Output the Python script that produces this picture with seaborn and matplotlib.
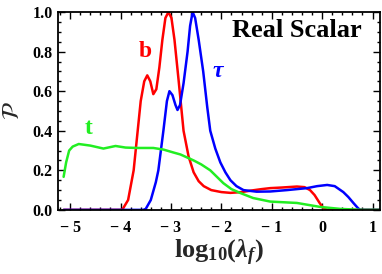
import numpy as np
import pandas as pd
import matplotlib
matplotlib.use("Agg")
import matplotlib.pyplot as plt
import seaborn as sns
from matplotlib.ticker import MultipleLocator, FixedLocator, FixedFormatter

# ---- data ----
b_x = [-5.13, -4.0, -3.96, -3.85, -3.74, -3.66, -3.6, -3.53, -3.47, -3.41, -3.35, -3.29,
       -3.23, -3.17, -3.11, -3.05, -2.99, -2.93, -2.85, -2.75, -2.65, -2.55, -2.45, -2.35,
       -2.2, -2.0, -1.82, -1.6, -1.4, -1.2, -1.03, -0.8, -0.5, -0.35, -0.24, -0.15, -0.05,
       0.02, 0.1, 1.15]
b_y = [0.0, 0.0, 0.003, 0.05, 0.2, 0.4, 0.55, 0.65, 0.68, 0.65, 0.585, 0.61,
       0.72, 0.86, 0.97, 1.0, 0.97, 0.86, 0.66, 0.40, 0.27, 0.19, 0.145, 0.12,
       0.10, 0.09, 0.086, 0.09, 0.098, 0.105, 0.11, 0.113, 0.118, 0.115, 0.10, 0.075, 0.035,
       0.01, 0.0, 0.0]

tau_x = [-5.13, -3.55, -3.5, -3.4, -3.3, -3.25, -3.15, -3.08, -3.03, -2.97, -2.91, -2.87,
         -2.82, -2.75, -2.67, -2.62, -2.57, -2.52, -2.45, -2.36, -2.28, -2.22, -2.12, -2.02,
         -1.92, -1.82, -1.7, -1.56, -1.3, -1.03, -0.7, -0.3, -0.1, 0.1, 0.25, 0.42, 0.52,
         0.62, 0.7, 0.75, 1.15]
tau_y = [0.0, 0.0, 0.005, 0.05, 0.14, 0.2, 0.4, 0.55, 0.6, 0.58, 0.53, 0.505,
         0.53, 0.64, 0.8, 0.93, 1.0, 0.97, 0.86, 0.70, 0.52, 0.40, 0.31, 0.24,
         0.19, 0.15, 0.12, 0.10, 0.092, 0.093, 0.10, 0.11, 0.12, 0.126, 0.12, 0.09, 0.065,
         0.035, 0.012, 0.0, 0.0]

t_x = [-5.13, -5.08, -5.02, -4.95, -4.83, -4.6, -4.34, -4.1, -3.9, -3.67, -3.35, -3.15,
       -2.95, -2.81, -2.55, -2.4, -2.22, -2.1, -1.96, -1.8, -1.62, -1.37, -1.03, -0.5,
       -0.04, 0.36, 0.8, 1.15]
t_y = [0.167, 0.24, 0.30, 0.32, 0.333, 0.325, 0.31, 0.323, 0.315, 0.313, 0.313, 0.305,
       0.29, 0.28, 0.25, 0.23, 0.20, 0.17, 0.135, 0.105, 0.085, 0.06, 0.042, 0.035,
       0.015, 0.005, 0.0, 0.0]

x_ticks = [-5, -4, -3, -2, -1, 0, 1]
x_tick_labels = ["\u2212 5", "\u2212 4", "\u2212 3", "\u2212 2", "\u2212 1", "0", "1"]
y_ticks = [0.0, 0.2, 0.4, 0.6, 0.8, 1.0]
y_tick_labels = ["0.0", "0.2", "0.4", "0.6", "0.8", "1.0"]

series = [("b", b_x, b_y, "#ff0000"), ("tau", tau_x, tau_y, "#0000ff"), ("t", t_x, t_y, "#22ee22")]

sns.set_theme(style="ticks")
plt.rcParams["font.family"] = ["Liberation Serif", "DejaVu Serif"]
plt.rcParams["mathtext.fontset"] = "custom"
plt.rcParams["mathtext.rm"] = "Liberation Serif:bold"
plt.rcParams["mathtext.it"] = "Liberation Serif:italic:bold"
plt.rcParams["mathtext.bf"] = "Liberation Serif:bold"

fig = plt.figure(figsize=(3.82, 2.74), dpi=100)
ax = fig.add_axes([0.152, 0.234, 0.843, 0.722])

for name, xs, ys, col in series:
    df = pd.DataFrame({"x": xs, "y": ys})
    sns.lineplot(data=df, x="x", y="y", ax=ax, color=col, linewidth=1.8, sort=False)

ax.set_xlim(-5.24, 1.15)
ax.set_ylim(0, 1.0)

ax.xaxis.set_major_locator(FixedLocator(x_ticks))
ax.xaxis.set_major_formatter(FixedFormatter(x_tick_labels))
ax.yaxis.set_major_locator(FixedLocator(y_ticks))
ax.yaxis.set_major_formatter(FixedFormatter(y_tick_labels))
ax.xaxis.set_minor_locator(MultipleLocator(0.2))
ax.yaxis.set_minor_locator(MultipleLocator(0.05))
ax.tick_params(which="both", direction="in", top=True, right=True, width=1.0, color="black")
ax.tick_params(which="major", length=5)
ax.tick_params(which="minor", length=2.5)
ax.tick_params(axis="x", which="major", pad=7)
ax.tick_params(axis="y", which="major", pad=4)
for lab in ax.get_xticklabels() + ax.get_yticklabels():
    lab.set_fontweight("bold")
    lab.set_fontsize(11.5)
    lab.set_color("black")
for s in ax.spines.values():
    s.set_linewidth(1.3)
    s.set_color("black")

ax.set_xlabel(r"$\mathrm{log}_{10}(\lambda_{\mathit{f}})$", fontsize=19, labelpad=2)
ax.set_ylabel(r"$\mathcal{P}$", fontsize=17, labelpad=6, math_fontfamily="stix")

ax.text(-3.5, 0.80, "b", color="#ff0000", fontsize=17, fontweight="bold", ha="center", va="center")
ax.text(-2.06, 0.70, r"$\tau$", color="#0000ff", fontsize=17, ha="center", va="center")
ax.text(-4.63, 0.41, "t", color="#22ee22", fontsize=17, fontweight="bold", ha="center", va="center")
ax.text(-0.51, 0.905, "Real Scalar", color="black", fontsize=19, fontweight="bold", ha="center", va="center")

fig.savefig("out.png", dpi=100)
